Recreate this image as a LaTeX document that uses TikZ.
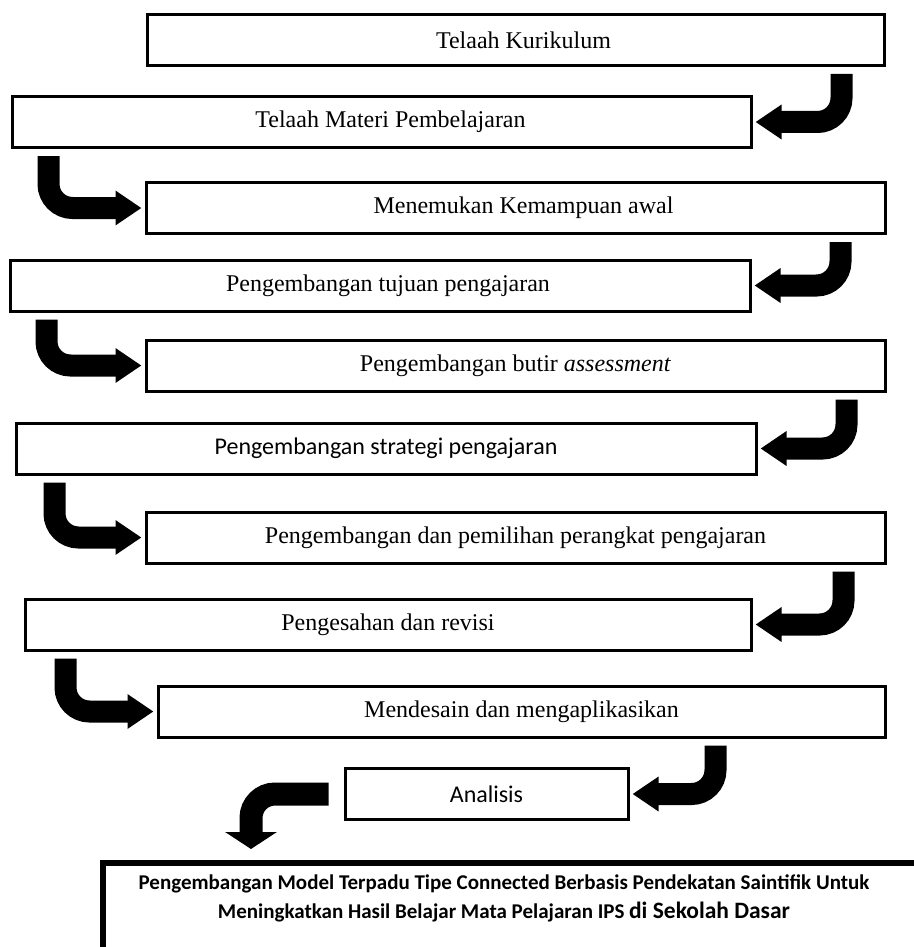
\documentclass[tikz,border=0pt]{standalone}
\usepackage{fontspec}
\setmainfont{Liberation Serif}
\newfontfamily\calibri{Carlito}
\usetikzlibrary{arrows.meta,calc}

\tikzset{
  kotak/.style={draw, line width=3pt, inner sep=0pt, minimum height=51pt, font=\fontsize{24}{29}\selectfont},
  panah/.style={line width=22pt, rounded corners=24pt, shorten >=3pt, -{Triangle[width=33pt,length=26pt]}},
}

\begin{document}
\begin{tikzpicture}[x=1pt,y=-1pt]
 \useasboundingbox (0,0) rectangle (913,947);

 \node (k1) at (515.5,40)[kotak, minimum width=737pt]{\hspace*{16pt}Telaah Kurikulum};
 \node (k2) at (381.5,122)[kotak, minimum width=739pt]{\hspace*{18pt}Telaah Materi Pembelajaran};
 \node (k3) at (515.5,208)[kotak, minimum width=739pt]{\hspace*{16pt}Menemukan Kemampuan awal};
 \node (k4) at (380,285.5)[kotak, minimum width=740pt]{\hspace*{16pt}Pengembangan tujuan pengajaran};
 \node (k5) at (515.5,365.5)[kotak, minimum width=739pt]{Pengembangan butir \textit{assessment}};
 \node (k6) at (386,448.5)[kotak, minimum width=740pt, font=\calibri\fontsize{24}{29}\selectfont]{Pengembangan strategi pengajaran};
 \node (k7) at (515.5,537.5)[kotak, minimum width=739pt]{Pengembangan dan pemilihan perangkat pengajaran};
 \node (k8) at (388,624.5)[kotak, minimum width=726pt]{Pengesahan dan revisi};
 \node (k9) at (521.5,711.5)[kotak, minimum width=727pt]{Mendesain dan mengaplikasikan};
 \node (analisis) at (486.5,794)[kotak, minimum width=283pt, font=\calibri\fontsize{24}{29}\selectfont]{Analisis};

 % kotak hasil akhir, terpotong di tepi kanan dan bawah
 \node (hasil) at (100,860)[anchor=north west, draw, line width=6pt, minimum width=850pt, minimum height=150pt]{};
 \node (judul) at (504,898.5)[align=center, font=\calibri\bfseries\fontsize{21}{29}\selectfont]{Pengembangan Model Terpadu Tipe Connected Berbasis Pendekatan Saintifik Untuk\\Meningkatkan Hasil Belajar Mata Pelajaran IPS {\fontsize{23.5}{29}\selectfont di Sekolah Dasar}};
 \coordinate (masuk) at ($(hasil.north west)+(151,-11)$);

 \draw[panah] ($(k1.south east)+(-44,7)$) |- (k2.east);
 \draw[panah] ($(k2.south west)+(38,7)$) |- (k3.west);
 \draw[panah] ($(k3.south east)+(-46,7)$) |- (k4.east);
 \draw[panah] ($(k4.south west)+(38,7)$) |- (k5.west);
 \draw[panah] ($(k5.south east)+(-40,7)$) |- (k6.east);
 \draw[panah] ($(k6.south west)+(40,7)$) |- (k7.west);
 \draw[panah] ($(k7.south east)+(-43,7)$) |- (k8.east);
 \draw[panah] ($(k8.south west)+(42,7)$) |- (k9.west);
 \draw[panah] ($(k9.south east)+(-171,7)$) |- (analisis.east);
 \draw[line width=23pt, rounded corners=24pt, -{Triangle[width=51pt,length=17pt]}] ($(analisis.west)+(-15,0)$) -| (masuk);

\end{tikzpicture}
\end{document}
